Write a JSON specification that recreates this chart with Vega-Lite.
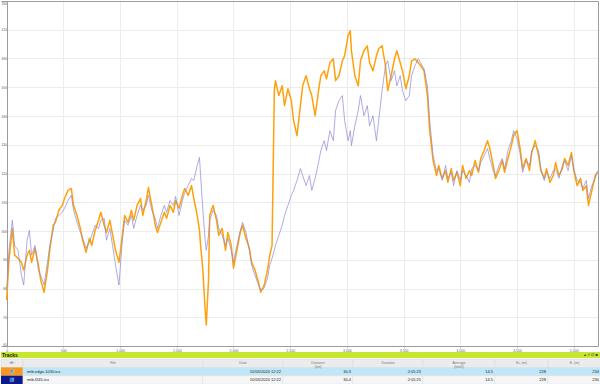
{
  "$schema": "https://vega.github.io/schema/vega-lite/v6.json",
  "padding": 0,
  "spacing": 0,
  "background": "white",
  "config": {"font": "Liberation Sans", "concat": {"spacing": 0}},
  "datasets": {
    "hr": [
{"d":0,"edge":76.0,"f245":79.4},{"d":20,"edge":89.8,"f245":93.3},{"d":50,"edge":100.9,"f245":103.7},{"d":70,"edge":91.6,"f245":95.0},{"d":100,"edge":90.5,"f245":93.3},{"d":130,"edge":89.1,"f245":84.6},{"d":150,"edge":86.4,"f245":81.2},{"d":180,"edge":91.6,"f245":96.8},{"d":200,"edge":93.3,"f245":100.2},{"d":220,"edge":89.1,"f245":91.6},{"d":250,"edge":94.0,"f245":95.0},{"d":280,"edge":88.1,"f245":86.4},{"d":300,"edge":82.9,"f245":84.6},{"d":330,"edge":78.7,"f245":81.2},{"d":360,"edge":86.4,"f245":89.1},{"d":380,"edge":93.3,"f245":95.0},{"d":410,"edge":102.0,"f245":100.2},{"d":430,"edge":103.0,"f245":104.4},{"d":460,"edge":107.2,"f245":105.4},{"d":490,"edge":108.9,"f245":106.5},{"d":510,"edge":111.3,"f245":107.9},{"d":540,"edge":114.1,"f245":110.6},{"d":570,"edge":114.8,"f245":112.4},{"d":590,"edge":108.9,"f245":107.2},{"d":620,"edge":105.4,"f245":103.0},{"d":650,"edge":100.9,"f245":99.5},{"d":670,"edge":96.8,"f245":97.5},{"d":700,"edge":92.6,"f245":94.0},{"d":730,"edge":97.5,"f245":96.1},{"d":750,"edge":95.0,"f245":98.5},{"d":780,"edge":100.2,"f245":102.0},{"d":810,"edge":103.7,"f245":100.9},{"d":830,"edge":106.5,"f245":103.7},{"d":860,"edge":102.0,"f245":104.4},{"d":880,"edge":99.5,"f245":96.8},{"d":910,"edge":103.7,"f245":100.9},{"d":940,"edge":97.5,"f245":93.3},{"d":960,"edge":93.3,"f245":88.1},{"d":990,"edge":89.1,"f245":81.2},{"d":1020,"edge":98.5,"f245":96.8},{"d":1040,"edge":105.4,"f245":103.7},{"d":1070,"edge":103.0,"f245":102.0},{"d":1100,"edge":107.2,"f245":105.4},{"d":1120,"edge":103.7,"f245":100.9},{"d":1150,"edge":108.9,"f245":105.4},{"d":1180,"edge":111.3,"f245":108.9},{"d":1200,"edge":105.4,"f245":107.2},{"d":1230,"edge":110.6,"f245":108.9},{"d":1250,"edge":115.1,"f245":112.4},{"d":1280,"edge":108.9,"f245":107.2},{"d":1310,"edge":102.0,"f245":104.4},{"d":1330,"edge":99.5,"f245":100.9},{"d":1360,"edge":103.0,"f245":105.4},{"d":1390,"edge":106.5,"f245":108.9},{"d":1410,"edge":104.4,"f245":106.5},{"d":1440,"edge":108.9,"f245":110.6},{"d":1470,"edge":106.5,"f245":108.9},{"d":1490,"edge":110.6,"f245":112.0},{"d":1520,"edge":107.9,"f245":105.4},{"d":1550,"edge":112.4,"f245":110.6},{"d":1570,"edge":114.8,"f245":113.4},{"d":1600,"edge":112.4,"f245":115.8},{"d":1630,"edge":115.8,"f245":118.3},{"d":1650,"edge":111.3,"f245":117.6},{"d":1680,"edge":105.4,"f245":122.8},{"d":1700,"edge":100.2,"f245":125.6},{"d":1710,"edge":95.0,"f245":119.3},{"d":1730,"edge":86.4,"f245":107.2},{"d":1750,"edge":72.5,"f245":96.8},{"d":1760,"edge":67.3,"f245":93.3},{"d":1780,"edge":82.9,"f245":98.5},{"d":1790,"edge":105.4,"f245":103.7},{"d":1820,"edge":108.9,"f245":107.2},{"d":1850,"edge":103.7,"f245":105.4},{"d":1870,"edge":98.5,"f245":100.9},{"d":1900,"edge":100.9,"f245":98.5},{"d":1930,"edge":93.3,"f245":95.0},{"d":1950,"edge":99.5,"f245":97.5},{"d":1980,"edge":95.0,"f245":93.3},{"d":2000,"edge":87.1,"f245":89.1},{"d":2030,"edge":93.3,"f245":95.0},{"d":2060,"edge":99.5,"f245":100.2},{"d":2080,"edge":102.0,"f245":103.0},{"d":2110,"edge":97.5,"f245":99.5},{"d":2140,"edge":94.0,"f245":93.3},{"d":2160,"edge":89.1,"f245":88.1},{"d":2190,"edge":86.4,"f245":84.6},{"d":2220,"edge":82.2,"f245":81.2},{"d":2240,"edge":78.7,"f245":79.4},{"d":2270,"edge":81.2,"f245":80.1},{"d":2300,"edge":86.4,"f245":83.6},{"d":2320,"edge":91.6,"f245":88.1},{"d":2340,"edge":95.0,"f245":90.5},{"d":2360,"edge":148.8,"f245":93.3},{"d":2370,"edge":152.3,"f245":95.0},{"d":2400,"edge":147.1,"f245":98.5},{"d":2430,"edge":150.5,"f245":102.0},{"d":2450,"edge":143.6,"f245":105.4},{"d":2480,"edge":149.5,"f245":108.9},{"d":2510,"edge":145.3,"f245":112.4},{"d":2530,"edge":138.4,"f245":114.1},{"d":2560,"edge":133.2,"f245":117.6},{"d":2590,"edge":143.6,"f245":121.7},{"d":2610,"edge":150.5,"f245":119.3},{"d":2640,"edge":154.0,"f245":115.8},{"d":2670,"edge":149.5,"f245":119.3},{"d":2690,"edge":147.1,"f245":114.1},{"d":2720,"edge":140.1,"f245":118.3},{"d":2750,"edge":148.8,"f245":123.8},{"d":2770,"edge":154.0,"f245":128.0},{"d":2800,"edge":155.7,"f245":131.4},{"d":2820,"edge":152.9,"f245":128.0},{"d":2850,"edge":158.5,"f245":134.9},{"d":2880,"edge":159.9,"f245":131.4},{"d":2900,"edge":152.3,"f245":141.9},{"d":2930,"edge":154.0,"f245":145.3},{"d":2960,"edge":159.2,"f245":147.1},{"d":2980,"edge":160.9,"f245":138.4},{"d":3010,"edge":167.9,"f245":131.4},{"d":3030,"edge":169.6,"f245":134.9},{"d":3040,"edge":162.7,"f245":129.7},{"d":3070,"edge":154.0,"f245":136.6},{"d":3100,"edge":150.5,"f245":141.9},{"d":3120,"edge":159.2,"f245":147.1},{"d":3150,"edge":162.7,"f245":140.1},{"d":3180,"edge":164.4,"f245":143.6},{"d":3200,"edge":158.5,"f245":136.6},{"d":3230,"edge":155.7,"f245":140.1},{"d":3260,"edge":160.9,"f245":131.4},{"d":3280,"edge":163.4,"f245":138.4},{"d":3310,"edge":164.4,"f245":148.8},{"d":3340,"edge":157.5,"f245":157.5},{"d":3360,"edge":148.8,"f245":159.2},{"d":3390,"edge":154.0,"f245":152.3},{"d":3420,"edge":159.9,"f245":155.7},{"d":3440,"edge":162.7,"f245":150.5},{"d":3470,"edge":158.5,"f245":154.0},{"d":3490,"edge":155.7,"f245":148.8},{"d":3520,"edge":149.5,"f245":145.3},{"d":3550,"edge":154.0,"f245":147.1},{"d":3570,"edge":159.2,"f245":154.0},{"d":3600,"edge":159.9,"f245":157.5},{"d":3630,"edge":158.5,"f245":159.9},{"d":3650,"edge":157.5,"f245":158.5},{"d":3680,"edge":155.7,"f245":156.4},{"d":3710,"edge":147.1,"f245":150.5},{"d":3730,"edge":134.9,"f245":138.4},{"d":3760,"edge":124.5,"f245":126.2},{"d":3790,"edge":119.3,"f245":121.0},{"d":3810,"edge":122.8,"f245":121.7},{"d":3840,"edge":118.3,"f245":117.6},{"d":3870,"edge":121.0,"f245":122.8},{"d":3890,"edge":116.9,"f245":118.3},{"d":3920,"edge":121.7,"f245":120.4},{"d":3940,"edge":117.6,"f245":115.8},{"d":3970,"edge":120.4,"f245":121.0},{"d":4000,"edge":115.8,"f245":117.6},{"d":4020,"edge":122.8,"f245":121.0},{"d":4050,"edge":118.3,"f245":119.3},{"d":4080,"edge":121.0,"f245":116.9},{"d":4100,"edge":119.3,"f245":121.7},{"d":4130,"edge":124.5,"f245":122.8},{"d":4160,"edge":120.4,"f245":121.0},{"d":4180,"edge":125.2,"f245":123.8},{"d":4210,"edge":128.0,"f245":126.2},{"d":4240,"edge":131.4,"f245":128.7},{"d":4260,"edge":128.7,"f245":125.2},{"d":4290,"edge":122.8,"f245":121.0},{"d":4310,"edge":118.3,"f245":119.3},{"d":4340,"edge":121.0,"f245":122.8},{"d":4370,"edge":124.5,"f245":125.2},{"d":4390,"edge":120.4,"f245":121.7},{"d":4420,"edge":125.2,"f245":128.0},{"d":4450,"edge":129.7,"f245":131.4},{"d":4470,"edge":133.2,"f245":134.9},{"d":4500,"edge":134.9,"f245":132.1},{"d":4530,"edge":128.0,"f245":126.2},{"d":4550,"edge":121.7,"f245":120.4},{"d":4580,"edge":125.2,"f245":124.5},{"d":4610,"edge":121.0,"f245":122.8},{"d":4630,"edge":127.3,"f245":128.0},{"d":4660,"edge":131.4,"f245":129.7},{"d":4690,"edge":126.2,"f245":128.0},{"d":4710,"edge":121.0,"f245":121.7},{"d":4740,"edge":118.3,"f245":117.6},{"d":4760,"edge":121.7,"f245":120.4},{"d":4790,"edge":116.9,"f245":118.3},{"d":4820,"edge":119.3,"f245":121.0},{"d":4840,"edge":123.8,"f245":121.7},{"d":4870,"edge":119.3,"f245":118.3},{"d":4900,"edge":121.7,"f245":122.8},{"d":4920,"edge":125.2,"f245":124.5},{"d":4950,"edge":122.8,"f245":121.0},{"d":4980,"edge":127.3,"f245":126.2},{"d":5000,"edge":121.0,"f245":121.7},{"d":5030,"edge":115.8,"f245":117.6},{"d":5060,"edge":118.3,"f245":116.9},{"d":5080,"edge":114.1,"f245":114.8},{"d":5110,"edge":115.8,"f245":117.6},{"d":5130,"edge":108.9,"f245":111.3},{"d":5160,"edge":114.1,"f245":115.8},{"d":5190,"edge":119.3,"f245":118.3},{"d":5210,"edge":120.4,"f245":121.0}
    ],
    "tracks": [
      {"file": "mtb-edge-1030.tcx", "date": "10/05/2020 12:22", "distance": "30.3", "duration": "2:05:23", "average": "14.5", "eplus": "228", "eminus": "234"},
      {"file": "mtb-f245.tcx", "date": "10/05/2020 12:22", "distance": "30.4", "duration": "2:05:25", "average": "14.5", "eplus": "228", "eminus": "230"}
    ]
  },
  "resolve": {"scale": {"color": "independent", "fill": "independent", "x": "independent", "y": "independent", "strokeWidth": "independent"}},
  "vconcat": [
    {
      "width": 597,
      "height": 345,
      "view": {"stroke": null},
      "data": {"name": "hr"},
      "transform": [{"fold": ["edge", "f245"], "as": ["track", "bpm"]}],
      "resolve": {"axis": {"x": "independent", "y": "independent"}},
      "layer": [
        {
          "mark": {"type": "line", "strokeJoin": "round"},
          "encoding": {
            "x": {"field": "d", "type": "quantitative",
                  "scale": {"domain": [-50, 5214], "nice": false, "zero": false},
                  "axis": {"title": null, "values": [0,500,1000,1500,2000,2500,3000,3500,4000,4500,5000],
                           "labelFontSize": 3.5, "labelColor": "#666", "tickSize": 2, "tickColor": "#c8c8c8",
                           "domain": true, "domainColor": "#9c9c9c", "domainWidth": 1,
                           "gridColor": "#ececec", "labelPadding": 0.5, "minExtent": 6, "maxExtent": 6}},
            "y": {"field": "bpm", "type": "quantitative",
                  "scale": {"domain": [60, 180], "nice": false, "zero": false},
                  "axis": {"title": null, "values": [60,70,80,90,100,110,120,130,140,150,160,170,180],
                           "labelFontSize": 3.3, "labelColor": "#666", "tickSize": 0, "labelFlush": true, "offset": -6,
                           "domain": true, "domainColor": "#9c9c9c", "domainWidth": 1,
                           "gridColor": "#ececec", "labelPadding": 0.5, "minExtent": 0, "maxExtent": 0}},
            "color": {"field": "track", "type": "nominal", "scale": {"domain": ["edge", "f245"], "range": ["#ffa10a", "#8b87d9"]}, "legend": null},
            "strokeWidth": {"field": "track", "type": "ordinal", "scale": {"domain": ["edge", "f245"], "range": [1.5, 0.7]}, "legend": null}
          }
        },
        {
          "mark": {"type": "line", "opacity": 0},
          "encoding": {
            "x": {"field": "d", "type": "quantitative",
                  "axis": {"orient": "top", "title": null, "labels": false, "ticks": false, "grid": false,
                           "domain": true, "domainColor": "#9c9c9c", "domainWidth": 1, "minExtent": 0, "maxExtent": 0}},
            "y": {"field": "bpm", "type": "quantitative",
                  "axis": {"orient": "right", "title": null, "labels": false, "ticks": false, "grid": false,
                           "domain": true, "domainColor": "#9c9c9c", "domainWidth": 1, "minExtent": 0, "maxExtent": 0}}
          }
        }
      ]
    },
    {
      "width": 600,
      "height": 6,
      "view": {"fill": "#c6e62f", "stroke": null},
      "layer": [
        {
          "data": {"values": [{"t": "Tracks"}]},
          "mark": {"type": "text", "align": "left", "baseline": "middle", "fontSize": 5, "fontWeight": "bold", "color": "#1a1a1a"},
          "encoding": {"text": {"field": "t"}, "x": {"value": 1}}
        },
        {
          "data": {"values": [{"t": "▴   ⇗ ⊡ ■"}]},
          "mark": {"type": "text", "align": "right", "baseline": "middle", "fontSize": 4, "color": "#333", "dx": -3},
          "encoding": {"text": {"field": "t"}, "x": {"value": "width"}}
        }
      ]
    },
    {
      "bounds": "flush",
      "spacing": 0,
      "resolve": {"scale": {"color": "independent", "fill": "independent", "y": "independent"}},
      "hconcat": [
        {
          "width": 22, "height": 25,
          "view": {"fill": "#ececec", "stroke": "#d4d4d4", "strokeWidth": 0.5},
          "layer": [
            {"data": {"name": "tracks"}, "mark": {"type": "rect"},
             "encoding": {"y": {"field": "file", "type": "nominal", "scale": {"domain": ["header", "mtb-edge-1030.tcx", "mtb-f245.tcx"], "paddingInner": 0, "paddingOuter": 0}, "axis": null},
                          "color": {"field": "file", "type": "nominal", "scale": {"domain": ["mtb-edge-1030.tcx", "mtb-f245.tcx"], "range": ["#f7961c", "#0b1a8a"]}, "legend": null}}},
            {"data": {"name": "tracks"}, "mark": {"type": "square", "size": 14, "filled": true, "color": "#2f80e0", "stroke": "white", "strokeWidth": 0.4},
             "encoding": {"y": {"field": "file", "type": "nominal"}}},
            {"data": {"name": "tracks"}, "mark": {"type": "text", "text": "✓", "fontSize": 3.5, "color": "white", "baseline": "middle"},
             "encoding": {"y": {"field": "file", "type": "nominal"}}},
            {"data": {"values": [{"h": "‹⊕›"}]}, "mark": {"type": "text", "fontSize": 3.5, "color": "#777", "baseline": "middle"},
             "encoding": {"y": {"datum": "header", "type": "nominal"}, "text": {"field": "h"}}}
          ]
        },
        {
          "width": 180, "height": 25,
          "view": {"fill": "#ececec", "stroke": "#d4d4d4", "strokeWidth": 0.5},
          "layer": [
            {"data": {"name": "tracks"}, "mark": {"type": "rect", "stroke": "#e4e4e4", "strokeWidth": 0.4},
             "encoding": {"y": {"field": "file", "type": "nominal", "scale": {"domain": ["header", "mtb-edge-1030.tcx", "mtb-f245.tcx"], "paddingInner": 0, "paddingOuter": 0}, "axis": null},
                          "fill": {"field": "file", "type": "nominal", "scale": {"domain": ["mtb-edge-1030.tcx", "mtb-f245.tcx"], "range": ["#bfe7f7", "#f6f6f6"]}, "legend": null}}},
            {"data": {"name": "tracks"}, "mark": {"type": "text", "align": "left", "baseline": "middle", "fontSize": 4, "color": "#222", "dx": 4},
             "encoding": {"y": {"field": "file", "type": "nominal"}, "x": {"value": 0}, "text": {"field": "file"}}},
            {"data": {"values": [{"h": "File"}]}, "mark": {"type": "text", "fontSize": 3.5, "color": "#777", "baseline": "middle"},
             "encoding": {"y": {"datum": "header", "type": "nominal"}, "text": {"field": "h"}}}
          ]
        },
        {
          "width": 80, "height": 25,
          "view": {"fill": "#ececec", "stroke": "#d4d4d4", "strokeWidth": 0.5},
          "layer": [
            {"data": {"name": "tracks"}, "mark": {"type": "rect", "stroke": "#e4e4e4", "strokeWidth": 0.4},
             "encoding": {"y": {"field": "file", "type": "nominal", "scale": {"domain": ["header", "mtb-edge-1030.tcx", "mtb-f245.tcx"], "paddingInner": 0, "paddingOuter": 0}, "axis": null},
                          "fill": {"field": "file", "type": "nominal", "scale": {"domain": ["mtb-edge-1030.tcx", "mtb-f245.tcx"], "range": ["#bfe7f7", "#f6f6f6"]}, "legend": null}}},
            {"data": {"name": "tracks"}, "mark": {"type": "text", "align": "right", "baseline": "middle", "fontSize": 4, "color": "#222", "dx": -2},
             "encoding": {"y": {"field": "file", "type": "nominal"}, "x": {"value": "width"}, "text": {"field": "date"}}},
            {"data": {"values": [{"h": "Date"}]}, "mark": {"type": "text", "fontSize": 3.5, "color": "#777", "baseline": "middle"},
             "encoding": {"y": {"datum": "header", "type": "nominal"}, "text": {"field": "h"}}}
          ]
        },
        {
          "width": 70, "height": 25,
          "view": {"fill": "#ececec", "stroke": "#d4d4d4", "strokeWidth": 0.5},
          "layer": [
            {"data": {"name": "tracks"}, "mark": {"type": "rect", "stroke": "#e4e4e4", "strokeWidth": 0.4},
             "encoding": {"y": {"field": "file", "type": "nominal", "scale": {"domain": ["header", "mtb-edge-1030.tcx", "mtb-f245.tcx"], "paddingInner": 0, "paddingOuter": 0}, "axis": null},
                          "fill": {"field": "file", "type": "nominal", "scale": {"domain": ["mtb-edge-1030.tcx", "mtb-f245.tcx"], "range": ["#bfe7f7", "#f6f6f6"]}, "legend": null}}},
            {"data": {"name": "tracks"}, "mark": {"type": "text", "align": "right", "baseline": "middle", "fontSize": 4, "color": "#222", "dx": -2},
             "encoding": {"y": {"field": "file", "type": "nominal"}, "x": {"value": "width"}, "text": {"field": "distance"}}},
            {"data": {"values": [{"h": "Distance\n(km)"}]}, "mark": {"type": "text", "fontSize": 3.5, "color": "#777", "baseline": "middle", "lineBreak": "\n", "lineHeight": 3.8},
             "encoding": {"y": {"datum": "header", "type": "nominal"}, "text": {"field": "h"}}}
          ]
        },
        {
          "width": 70, "height": 25,
          "view": {"fill": "#ececec", "stroke": "#d4d4d4", "strokeWidth": 0.5},
          "layer": [
            {"data": {"name": "tracks"}, "mark": {"type": "rect", "stroke": "#e4e4e4", "strokeWidth": 0.4},
             "encoding": {"y": {"field": "file", "type": "nominal", "scale": {"domain": ["header", "mtb-edge-1030.tcx", "mtb-f245.tcx"], "paddingInner": 0, "paddingOuter": 0}, "axis": null},
                          "fill": {"field": "file", "type": "nominal", "scale": {"domain": ["mtb-edge-1030.tcx", "mtb-f245.tcx"], "range": ["#bfe7f7", "#f6f6f6"]}, "legend": null}}},
            {"data": {"name": "tracks"}, "mark": {"type": "text", "align": "right", "baseline": "middle", "fontSize": 4, "color": "#222", "dx": -2},
             "encoding": {"y": {"field": "file", "type": "nominal"}, "x": {"value": "width"}, "text": {"field": "duration"}}},
            {"data": {"values": [{"h": "Duration"}]}, "mark": {"type": "text", "fontSize": 3.5, "color": "#777", "baseline": "middle"},
             "encoding": {"y": {"datum": "header", "type": "nominal"}, "text": {"field": "h"}}}
          ]
        },
        {
          "width": 72, "height": 25,
          "view": {"fill": "#ececec", "stroke": "#d4d4d4", "strokeWidth": 0.5},
          "layer": [
            {"data": {"name": "tracks"}, "mark": {"type": "rect", "stroke": "#e4e4e4", "strokeWidth": 0.4},
             "encoding": {"y": {"field": "file", "type": "nominal", "scale": {"domain": ["header", "mtb-edge-1030.tcx", "mtb-f245.tcx"], "paddingInner": 0, "paddingOuter": 0}, "axis": null},
                          "fill": {"field": "file", "type": "nominal", "scale": {"domain": ["mtb-edge-1030.tcx", "mtb-f245.tcx"], "range": ["#bfe7f7", "#f6f6f6"]}, "legend": null}}},
            {"data": {"name": "tracks"}, "mark": {"type": "text", "align": "right", "baseline": "middle", "fontSize": 4, "color": "#222", "dx": -2},
             "encoding": {"y": {"field": "file", "type": "nominal"}, "x": {"value": "width"}, "text": {"field": "average"}}},
            {"data": {"values": [{"h": "Average\n(km/h)"}]}, "mark": {"type": "text", "fontSize": 3.5, "color": "#777", "baseline": "middle", "lineBreak": "\n", "lineHeight": 3.8},
             "encoding": {"y": {"datum": "header", "type": "nominal"}, "text": {"field": "h"}}}
          ]
        },
        {
          "width": 53, "height": 25,
          "view": {"fill": "#ececec", "stroke": "#d4d4d4", "strokeWidth": 0.5},
          "layer": [
            {"data": {"name": "tracks"}, "mark": {"type": "rect", "stroke": "#e4e4e4", "strokeWidth": 0.4},
             "encoding": {"y": {"field": "file", "type": "nominal", "scale": {"domain": ["header", "mtb-edge-1030.tcx", "mtb-f245.tcx"], "paddingInner": 0, "paddingOuter": 0}, "axis": null},
                          "fill": {"field": "file", "type": "nominal", "scale": {"domain": ["mtb-edge-1030.tcx", "mtb-f245.tcx"], "range": ["#bfe7f7", "#f6f6f6"]}, "legend": null}}},
            {"data": {"name": "tracks"}, "mark": {"type": "text", "align": "right", "baseline": "middle", "fontSize": 4, "color": "#222", "dx": -2},
             "encoding": {"y": {"field": "file", "type": "nominal"}, "x": {"value": "width"}, "text": {"field": "eplus"}}},
            {"data": {"values": [{"h": "E+ (m)"}]}, "mark": {"type": "text", "fontSize": 3.5, "color": "#777", "baseline": "middle"},
             "encoding": {"y": {"datum": "header", "type": "nominal"}, "text": {"field": "h"}}}
          ]
        },
        {
          "width": 53, "height": 25,
          "view": {"fill": "#ececec", "stroke": "#d4d4d4", "strokeWidth": 0.5},
          "layer": [
            {"data": {"name": "tracks"}, "mark": {"type": "rect", "stroke": "#e4e4e4", "strokeWidth": 0.4},
             "encoding": {"y": {"field": "file", "type": "nominal", "scale": {"domain": ["header", "mtb-edge-1030.tcx", "mtb-f245.tcx"], "paddingInner": 0, "paddingOuter": 0}, "axis": null},
                          "fill": {"field": "file", "type": "nominal", "scale": {"domain": ["mtb-edge-1030.tcx", "mtb-f245.tcx"], "range": ["#bfe7f7", "#f6f6f6"]}, "legend": null}}},
            {"data": {"name": "tracks"}, "mark": {"type": "text", "align": "right", "baseline": "middle", "fontSize": 4, "color": "#222", "dx": -2},
             "encoding": {"y": {"field": "file", "type": "nominal"}, "x": {"value": "width"}, "text": {"field": "eminus"}}},
            {"data": {"values": [{"h": "E- (m)"}]}, "mark": {"type": "text", "fontSize": 3.5, "color": "#777", "baseline": "middle"},
             "encoding": {"y": {"datum": "header", "type": "nominal"}, "text": {"field": "h"}}}
          ]
        }
      ]
    }
  ]
}
